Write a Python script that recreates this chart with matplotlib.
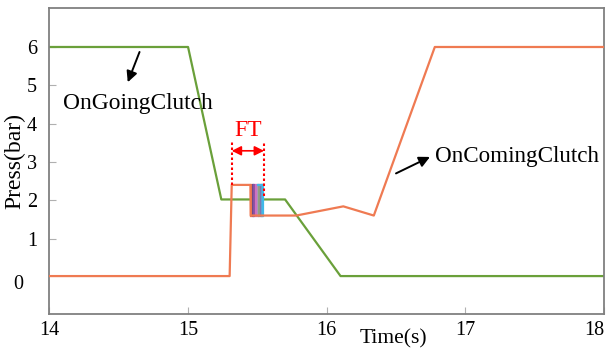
import matplotlib
matplotlib.use("Agg")
import matplotlib.pyplot as plt

plt.rcParams['font.family'] = ['Liberation Serif', 'DejaVu Serif']

# OnGoingClutch pressure
going_t = [14.0, 15.0, 15.24, 15.70, 16.10, 18.0]
going_p = [6.0, 6.0, 2.02, 2.02, 0.02, 0.02]

# OnComingClutch pressure
coming_t = [14.0, 15.30, 15.315, 15.45, 15.452, 15.78, 16.12, 16.34, 16.78, 18.0]
coming_p = [0.02, 0.02, 2.4, 2.4, 1.6, 1.6, 1.84, 1.6, 6.0, 6.0]

# fill-time oscillation traces
osc_t = [15.457, 15.468, 15.479, 15.490, 15.501, 15.512, 15.523, 15.534, 15.544]
osc_colors = ['#e8704a', '#6a4a8a', '#8a50a0', '#d070c0', '#b090c8', '#90a080',
              '#8070b0', '#60a0d0', '#40b8e8']
osc_low, osc_high = 1.6, 2.4

ft_left, ft_right = 15.315, 15.548

xticks = [14, 15, 16, 17, 18]
yticks = [1, 2, 3, 4, 5, 6]

green = '#6aa03a'
orange = '#ef7a52'

fig = plt.figure(figsize=(6.08, 3.49), dpi=100)
ax = fig.add_axes([0.0813, 0.1003, 0.912, 0.877])

for t, c in zip(osc_t, osc_colors):
    ax.plot([t, t], [osc_low, osc_high], color=c, lw=1.6, zorder=3)
ax.plot([osc_t[4], osc_t[-1]], [osc_high, osc_high], color='#40b8e8', lw=1.6, zorder=3)

ax.plot(going_t, going_p, color=green, lw=1.6, zorder=2)
ax.plot(coming_t, coming_p, color=orange, lw=1.6, zorder=4)

# FT annotation
ax.plot([ft_left, ft_left], [2.4, 3.55], color='red', lw=1.5, ls=(0, (1.2, 1.2)), zorder=5)
ax.plot([ft_right, ft_right], [2.1, 3.55], color='red', lw=1.5, ls=(0, (1.2, 1.2)), zorder=5)
ax.annotate('', xy=(ft_left, 3.29), xytext=(ft_right, 3.29),
            arrowprops=dict(arrowstyle='<|-|>', color='red', lw=1.2,
                            mutation_scale=14, shrinkA=0, shrinkB=0))
ax.text((ft_left + ft_right) / 2, 3.55, 'FT', color='red', fontsize=17,
        ha='center', va='bottom')

# labels with arrows
ax.text(14.1, 4.52, 'OnGoingClutch', fontsize=16.8, ha='left', va='center')
ax.annotate('', xy=(14.565, 5.08), xytext=(14.65, 5.87),
            arrowprops=dict(arrowstyle='-|>', color='black', lw=1.4,
                            mutation_scale=16, shrinkA=0, shrinkB=0))
ax.text(16.78, 3.13, 'OnComingClutch', fontsize=16.6, ha='left', va='center')
ax.annotate('', xy=(16.745, 3.13), xytext=(16.5, 2.7),
            arrowprops=dict(arrowstyle='-|>', color='black', lw=1.4,
                            mutation_scale=16, shrinkA=0, shrinkB=0))

ax.set_xlim(14, 18)
ax.set_ylim(-0.97, 7.02)
ax.set_xticks(xticks)
ax.set_xticklabels([str(v) for v in xticks])
ax.set_yticks(yticks)
ax.set_yticklabels([str(v) for v in yticks])
ax.tick_params(direction='in', length=5, color='#b0b0b0', labelsize=14.5)
ax.tick_params(axis='x', pad=5)
ax.tick_params(axis='y', pad=9)
ax.get_xticklabels()[-1].set_horizontalalignment('right')
ax.get_xticklabels()[-1].set_x(18.02)
ax.text(-0.047, -0.2, '0', transform=ax.get_yaxis_transform(), fontsize=14.5,
        ha='right', va='center')
for s in ax.spines.values():
    s.set_color('#808080')
    s.set_linewidth(1.3)

ax.set_ylabel('Press(bar)', fontsize=17, labelpad=1)
ax.text(16.48, -1.38, 'Time(s)', fontsize=15.5, ha='center', va='top')

fig.savefig('out.png', dpi=100)
